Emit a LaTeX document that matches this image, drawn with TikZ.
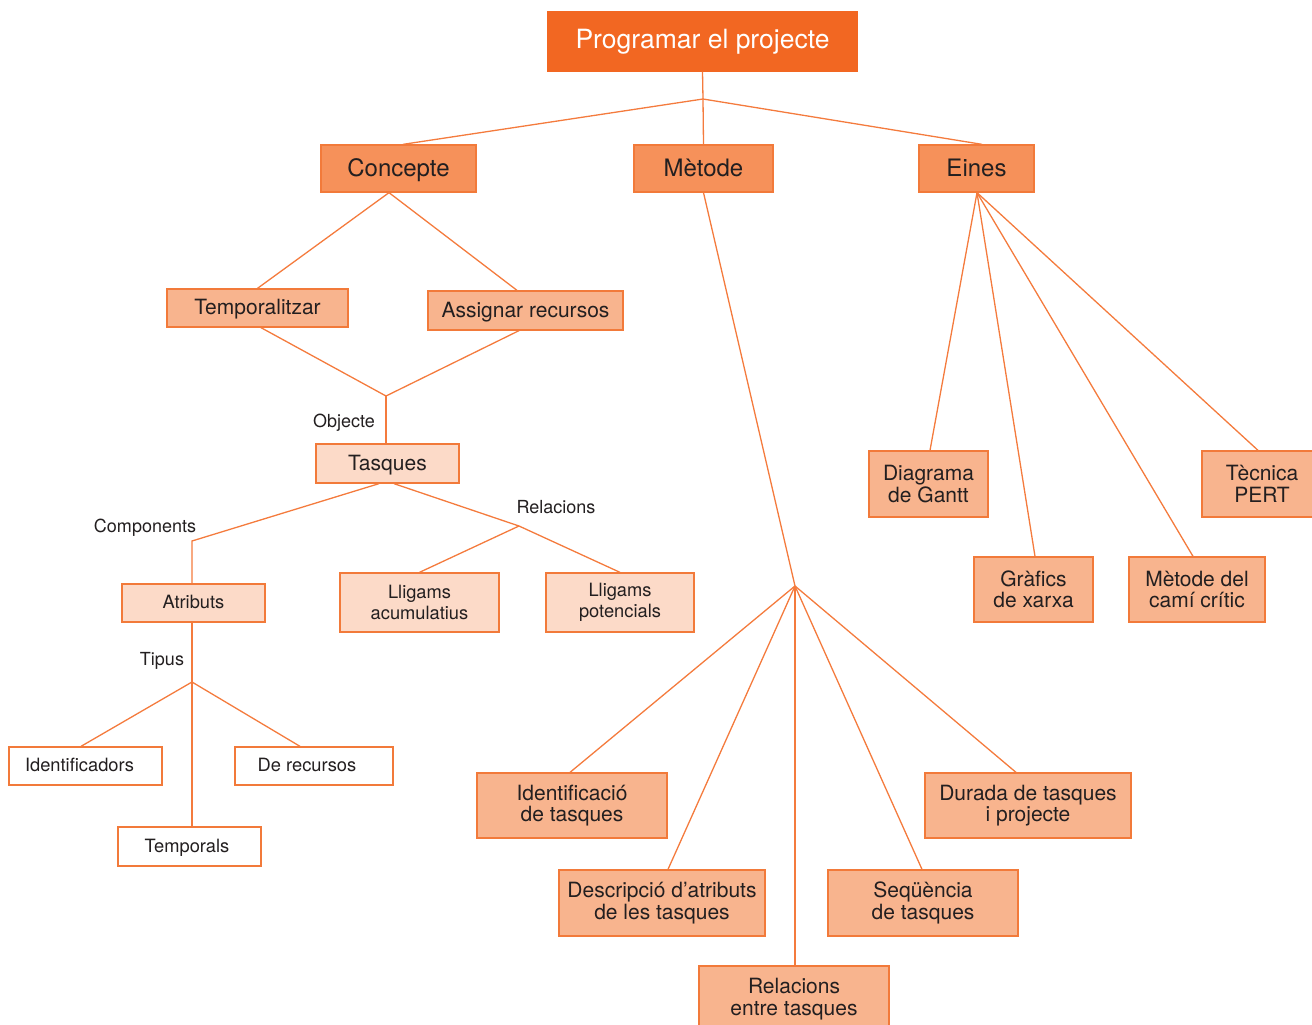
\documentclass[tikz,border=0pt]{standalone}
\usepackage{fontspec}
\setmainfont{TeX Gyre Heros}
\definecolor{topc}{HTML}{F26722}
\definecolor{bordc}{HTML}{F27A3A}
\definecolor{lvtwo}{HTML}{F6915A}
\definecolor{lvthree}{HTML}{F8B48E}
\definecolor{lvfour}{HTML}{FCDAC8}
\definecolor{linec}{HTML}{F47B3D}
\definecolor{txtc}{HTML}{231F20}
\tikzset{
  box/.style={draw=bordc, line width=1.3pt, inner sep=0pt, align=center, text=txtc},
  oneline/.style={text height=#1, text depth=1.5pt},
  topbox/.style={box, fill=topc, draw=topc, text=white, font=\fontsize{26.5}{28}\selectfont},
  twobox/.style={box, oneline=17.3pt, fill=lvtwo, font=\fontsize{24}{25}\selectfont},
  threebox/.style={box, fill=lvthree, font=\fontsize{21}{21.5}\selectfont},
  fourbox/.style={box, fill=lvfour, font=\fontsize{21}{21.5}\selectfont},
  smallfour/.style={box, fill=lvfour, font=\fontsize{18.3}{21}\selectfont},
  leafbox/.style={box, oneline=13.2pt, fill=white, font=\fontsize{18.3}{21}\selectfont},
  conn/.style={draw=linec, line width=1.3pt},
  lbl/.style={inner sep=0pt, oneline=13pt, text=txtc, font=\fontsize{18}{20}\selectfont}
}
\begin{document}
\begin{tikzpicture}[x=1pt,y=-1pt]
\useasboundingbox (0,0) rectangle (1312,1025);
\clip (0,0) rectangle (1312,1025);
% nodes
\node[topbox, minimum width=309, minimum height=59] (top) at (702.5,41.5) {Programar el projecte};
\node[twobox, minimum width=155, minimum height=47] (concepte) at (398.5,168.5) {Concepte};
\node[twobox, minimum width=139, minimum height=47] (metode) at (703.5,168.5) {Mètode};
\node[twobox, minimum width=115, minimum height=47] (eines) at (976.5,168.5) {Eines};
\node[threebox, oneline=15.1pt, minimum width=181, minimum height=38] (temp) at (257.5,308) {Temporalitzar};
\node[threebox, oneline=15.1pt, minimum width=195, minimum height=39] (assig) at (525.5,310.5) {Assignar recursos};
\node[fourbox, oneline=15.1pt, minimum width=143, minimum height=39] (tasques) at (387.5,463.5) {Tasques};
\node[smallfour, oneline=13.2pt, minimum width=143, minimum height=38] (atributs) at (193.5,603) {Atributs};
\node[smallfour, minimum width=159, minimum height=59] (lligacum) at (419.5,602.5) {Lligams\\acumulatius};
\node[smallfour, minimum width=148, minimum height=59] (lligpot) at (620,602.5) {Lligams\\potencials};
\node[leafbox, minimum width=153, minimum height=38] (identif) at (85.5,766) {\hspace*{-12pt}Identificadors};
\node[leafbox, minimum width=158, minimum height=38] (derec) at (314,766) {\hspace*{-14pt}De recursos};
\node[leafbox, minimum width=143, minimum height=39] (temporals) at (189.5,846.5) {\hspace*{-5pt}Temporals};
\node[threebox, minimum width=190, minimum height=65] (identtasq) at (572,805.5) {Identificació\\de tasques};
\node[threebox, minimum width=206, minimum height=66] (descrip) at (662,903) {Descripció d’atributs\\de les tasques};
\node[threebox, minimum width=190, minimum height=66] (relac) at (794,999) {Relacions\\entre tasques};
\node[threebox, minimum width=190, minimum height=66] (sequ) at (923,903) {Seqüència\\de tasques};
\node[threebox, minimum width=206, minimum height=65] (durada) at (1028,805.5) {Durada de tasques\\i projecte};
\node[threebox, minimum width=119, minimum height=66] (gantt) at (928.5,484) {Diagrama\\de Gantt};
\node[threebox, minimum width=120, minimum height=66] (pert) at (1262,484) {Tècnica\\PERT};
\node[threebox, minimum width=119, minimum height=65] (grafics) at (1033.5,589.5) {Gràfics\\de xarxa};
\node[threebox, minimum width=136, minimum height=65] (cami) at (1197,589.5) {Mètode del\\camí crític};
% labels
\node[lbl] (objecte) at (344,422) {Objecte};
\node[lbl] (components) at (145,527) {Components};
\node[lbl] (relacions) at (556,508) {Relacions};
\node[lbl] (tipus) at (162,660) {Tipus};
% junctions
\coordinate (j0) at (703,99);
\coordinate (j1) at (386,396);
\coordinate (kink) at (192,541);
\coordinate (j2) at (519,526);
\coordinate (j3) at (192,682);
\coordinate (j4) at (795,586);
% connectors
\draw[conn] (top.south) -- (j0);
\draw[conn] (j0) -- ([xshift=4.5pt]concepte.north);
\draw[conn] (j0) -- (metode.north);
\draw[conn] (j0) -- ([xshift=5.5pt]eines.north);
\draw[conn] ([xshift=-9.5pt]concepte.south) -- (temp.north);
\draw[conn] ([xshift=-9.5pt]concepte.south) -- ([xshift=-8.5pt]assig.north);
\draw[conn] ([xshift=3.5pt]temp.south) -- (j1);
\draw[conn] ([xshift=-6.5pt]assig.south) -- (j1);
\draw[conn] (j1) -- ([xshift=-1.5pt]tasques.north);
\draw[conn] ([xshift=-8.5pt]tasques.south) -- (kink) -- ([xshift=-1.5pt]atributs.north);
\draw[conn] ([xshift=6.5pt]tasques.south) -- (j2);
\draw[conn] (j2) -- (lligacum.north);
\draw[conn] (j2) -- (lligpot.north);
\draw[conn] ([xshift=-1.5pt]atributs.south) -- (j3);
\draw[conn] (j3) -- ([xshift=-4.5pt]identif.north);
\draw[conn] (j3) -- ([xshift=-14pt]derec.north);
\draw[conn] (j3) -- ([xshift=2.5pt]temporals.north);
\draw[conn] (metode.south) -- (j4);
\draw[conn] (j4) -- ([xshift=-2pt]identtasq.north);
\draw[conn] (j4) -- ([xshift=6pt]descrip.north);
\draw[conn] (j4) -- ([xshift=1pt]relac.north);
\draw[conn] (j4) -- ([xshift=-1pt]sequ.north);
\draw[conn] (j4) -- ([xshift=-12pt]durada.north);
\draw[conn] ([xshift=0.5pt]eines.south) -- ([xshift=1.5pt]gantt.north);
\draw[conn] ([xshift=0.5pt]eines.south) -- ([xshift=1.5pt]grafics.north);
\draw[conn] ([xshift=0.5pt]eines.south) -- ([xshift=-4pt]cami.north);
\draw[conn] ([xshift=0.5pt]eines.south) -- ([xshift=-4pt]pert.north);
\end{tikzpicture}
\end{document}
